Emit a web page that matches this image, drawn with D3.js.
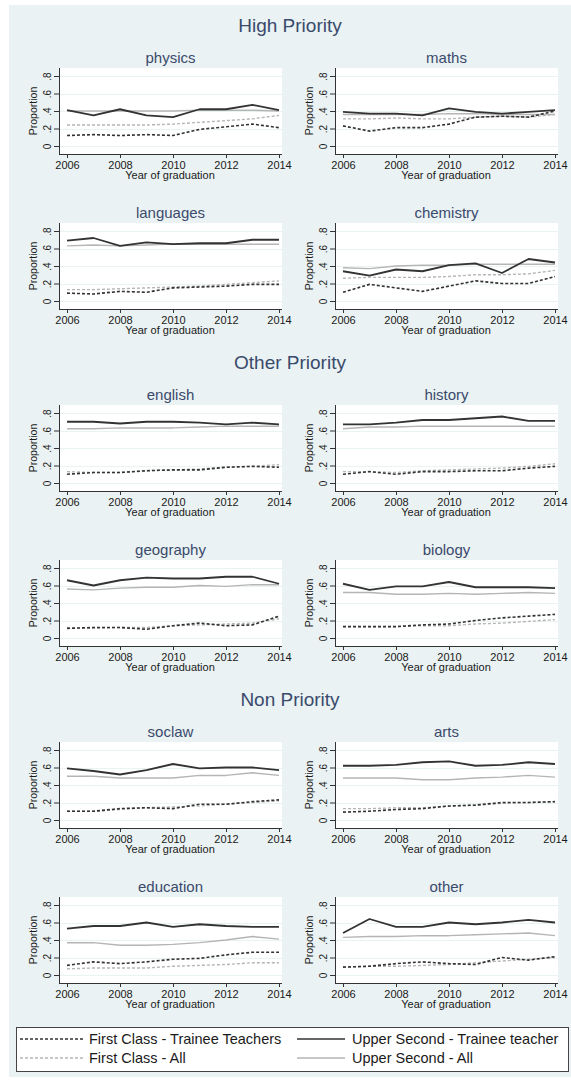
<!DOCTYPE html>
<html>
<head>
<meta charset="utf-8">
<script src="https://cdn.jsdelivr.net/npm/d3@7"></script>
<style>
  html, body { margin: 0; padding: 0; background: #ffffff; }
  svg { display: block; font-family: "Liberation Sans", Arial, sans-serif; }
</style>
</head>
<body>
<svg id="chart" width="571" height="1080"></svg>
<script>
// ---------------- DATA ----------------
const years = [2006, 2007, 2008, 2009, 2010, 2011, 2012, 2013, 2014];
const groups = ["High Priority", "Other Priority", "Non Priority"];
const subjects = ["physics", "maths", "languages", "chemistry",
                  "english", "history", "geography", "biology",
                  "soclaw", "arts", "education", "other"];
const xTicks = [2006, 2008, 2010, 2012, 2014];
const yTicks = [0, 0.2, 0.4, 0.6, 0.8];
const yTickLabels = ["0", ".2", ".4", ".6", ".8"];
const seriesNames = ["First Class - Trainee Teachers", "Upper Second - Trainee teacher",
                     "First Class - All", "Upper Second - All"];

// rows follow the order of `subjects`
const firstClassTrainee = [
  [0.12, 0.13, 0.12, 0.13, 0.12, 0.19, 0.22, 0.25, 0.21],
  [0.23, 0.17, 0.21, 0.21, 0.25, 0.33, 0.34, 0.33, 0.40],
  [0.09, 0.08, 0.11, 0.10, 0.15, 0.16, 0.17, 0.19, 0.19],
  [0.10, 0.19, 0.15, 0.11, 0.17, 0.23, 0.20, 0.20, 0.28],
  [0.10, 0.12, 0.12, 0.14, 0.15, 0.15, 0.18, 0.19, 0.18],
  [0.10, 0.13, 0.10, 0.13, 0.13, 0.14, 0.14, 0.17, 0.19],
  [0.11, 0.12, 0.12, 0.10, 0.14, 0.17, 0.14, 0.15, 0.25],
  [0.13, 0.13, 0.13, 0.15, 0.16, 0.20, 0.23, 0.25, 0.27],
  [0.10, 0.10, 0.13, 0.14, 0.13, 0.18, 0.18, 0.21, 0.23],
  [0.09, 0.10, 0.12, 0.13, 0.16, 0.17, 0.20, 0.20, 0.21],
  [0.11, 0.15, 0.13, 0.15, 0.18, 0.19, 0.23, 0.26, 0.26],
  [0.09, 0.10, 0.13, 0.15, 0.13, 0.12, 0.20, 0.17, 0.21]
];
const upperSecondTrainee = [
  [0.41, 0.35, 0.42, 0.35, 0.33, 0.42, 0.42, 0.47, 0.41],
  [0.39, 0.37, 0.37, 0.35, 0.43, 0.39, 0.37, 0.39, 0.41],
  [0.69, 0.72, 0.63, 0.67, 0.65, 0.66, 0.66, 0.70, 0.70],
  [0.34, 0.29, 0.36, 0.34, 0.41, 0.43, 0.32, 0.48, 0.44],
  [0.70, 0.70, 0.68, 0.70, 0.70, 0.69, 0.67, 0.69, 0.67],
  [0.67, 0.67, 0.69, 0.72, 0.72, 0.74, 0.76, 0.71, 0.71],
  [0.66, 0.60, 0.66, 0.69, 0.68, 0.68, 0.70, 0.70, 0.62],
  [0.62, 0.55, 0.59, 0.59, 0.64, 0.58, 0.58, 0.58, 0.57],
  [0.59, 0.56, 0.52, 0.57, 0.64, 0.59, 0.60, 0.60, 0.57],
  [0.62, 0.62, 0.63, 0.66, 0.67, 0.62, 0.63, 0.66, 0.64],
  [0.53, 0.56, 0.56, 0.60, 0.55, 0.58, 0.56, 0.55, 0.55],
  [0.48, 0.64, 0.55, 0.55, 0.60, 0.58, 0.60, 0.63, 0.60]
];
const firstClassAll = [
  [0.24, 0.24, 0.24, 0.24, 0.25, 0.27, 0.29, 0.31, 0.35],
  [0.31, 0.31, 0.32, 0.31, 0.31, 0.33, 0.34, 0.33, 0.36],
  [0.13, 0.13, 0.14, 0.15, 0.16, 0.17, 0.19, 0.21, 0.23],
  [0.26, 0.27, 0.27, 0.27, 0.28, 0.30, 0.30, 0.31, 0.35],
  [0.13, 0.12, 0.12, 0.14, 0.15, 0.16, 0.18, 0.19, 0.21],
  [0.13, 0.13, 0.12, 0.14, 0.15, 0.16, 0.17, 0.19, 0.22],
  [0.12, 0.11, 0.12, 0.12, 0.14, 0.15, 0.16, 0.17, 0.22],
  [0.13, 0.13, 0.13, 0.14, 0.14, 0.16, 0.17, 0.19, 0.21],
  [0.10, 0.10, 0.12, 0.14, 0.15, 0.16, 0.18, 0.20, 0.22],
  [0.13, 0.13, 0.14, 0.14, 0.16, 0.17, 0.19, 0.20, 0.21],
  [0.07, 0.08, 0.08, 0.08, 0.10, 0.11, 0.12, 0.14, 0.14],
  [0.09, 0.10, 0.10, 0.11, 0.12, 0.14, 0.16, 0.18, 0.20]
];
const upperSecondAll = [
  [0.40, 0.40, 0.40, 0.40, 0.40, 0.41, 0.41, 0.41, 0.40],
  [0.36, 0.36, 0.36, 0.36, 0.37, 0.37, 0.36, 0.36, 0.36],
  [0.63, 0.64, 0.63, 0.64, 0.65, 0.65, 0.65, 0.65, 0.65],
  [0.38, 0.37, 0.40, 0.41, 0.41, 0.42, 0.42, 0.42, 0.42],
  [0.62, 0.62, 0.63, 0.63, 0.63, 0.64, 0.65, 0.65, 0.65],
  [0.62, 0.64, 0.64, 0.65, 0.65, 0.65, 0.65, 0.65, 0.65],
  [0.56, 0.55, 0.57, 0.58, 0.58, 0.60, 0.59, 0.61, 0.61],
  [0.52, 0.52, 0.50, 0.50, 0.51, 0.50, 0.51, 0.52, 0.51],
  [0.50, 0.50, 0.48, 0.48, 0.48, 0.51, 0.51, 0.54, 0.51],
  [0.48, 0.48, 0.48, 0.46, 0.46, 0.48, 0.49, 0.51, 0.49],
  [0.37, 0.37, 0.34, 0.34, 0.35, 0.37, 0.40, 0.44, 0.41],
  [0.43, 0.44, 0.44, 0.45, 0.45, 0.46, 0.47, 0.48, 0.45]
];

// ---------------- STYLE / LAYOUT ----------------
const BG = "#eaf2f3";
const TITLE_COLOR = "#3a4a6c";
const DARK = "#333333";
const LIGHT = "#b5b5b5";
const seriesStyles = [
  { data: upperSecondAll,     color: LIGHT, dash: null,  width: 1.5 },
  { data: firstClassAll,      color: LIGHT, dash: "3,2", width: 1.4 },
  { data: upperSecondTrainee, color: DARK,  dash: null,  width: 1.8 },
  { data: firstClassTrainee,  color: DARK,  dash: "3,2", width: 1.6 }
];

const colLeft = [59, 335];
const rowTop = [68, 223, 405, 560, 742, 897];
const groupBaseline = [32, 369, 706];
const PW = 223, PH = 86;

const svg = d3.select("#chart");
svg.append("rect").attr("x", 9).attr("y", 5).attr("width", 562).attr("height", 1072).attr("fill", BG);

groups.forEach((g, gi) => {
  svg.append("text").attr("x", 290).attr("y", groupBaseline[gi])
    .attr("text-anchor", "middle").attr("font-size", 19).attr("fill", TITLE_COLOR).text(g);
});

subjects.forEach((name, i) => {
  const L = colLeft[i % 2];
  const T = rowTop[Math.floor(i / 2)];
  const x = d3.scaleLinear().domain([2006, 2014]).range([L + 8, L + 220]);
  const y = d3.scaleLinear().domain([0, 0.8]).range([T + 78, T + 8]);
  const gP = svg.append("g");

  gP.append("rect").attr("x", L).attr("y", T).attr("width", PW).attr("height", PH).attr("fill", "#ffffff");

  // grid
  gP.selectAll("line.grid").data(yTicks).enter().append("line")
    .attr("x1", L).attr("x2", L + PW)
    .attr("y1", d => Math.round(y(d)) + 0.5).attr("y2", d => Math.round(y(d)) + 0.5)
    .attr("stroke", BG).attr("stroke-width", 1);

  // series
  const lineGen = d3.line().x((d, j) => x(years[j])).y(d => y(d)).curve(d3.curveLinear);
  seriesStyles.forEach(s => {
    gP.append("path").datum(s.data[i]).attr("d", lineGen)
      .attr("fill", "none").attr("stroke", s.color).attr("stroke-width", s.width)
      .attr("stroke-dasharray", s.dash).attr("stroke-linejoin", "round");
  });

  // axes
  const ya = gP.append("g").attr("transform", `translate(${L},0)`)
    .call(d3.axisLeft(y).tickValues(yTicks).tickFormat((d, j) => yTickLabels[j]).tickSize(5).tickSizeOuter(0));
  ya.select(".domain").remove();
  ya.selectAll(".tick line").attr("stroke", DARK);
  ya.selectAll(".tick text")
    .attr("x", null).attr("dy", null)
    .attr("transform", "translate(-8,0) rotate(-90)")
    .attr("text-anchor", "middle").attr("font-size", 10).attr("fill", "#1a1a1a")
    .attr("font-family", "Liberation Sans, Arial, sans-serif");
  gP.append("line").attr("x1", L + 0.5).attr("x2", L + 0.5).attr("y1", T).attr("y2", T + PH)
    .attr("stroke", DARK).attr("stroke-width", 1);

  const xa = gP.append("g").attr("transform", `translate(0,${T + PH})`)
    .call(d3.axisBottom(x).tickValues(xTicks).tickFormat(d3.format("d")).tickSize(4).tickSizeOuter(0));
  xa.select(".domain").remove();
  xa.selectAll(".tick line").attr("stroke", DARK);
  xa.selectAll(".tick text").attr("font-size", 11).attr("fill", "#1a1a1a")
    .attr("font-family", "Liberation Sans, Arial, sans-serif");
  gP.append("line").attr("x1", L).attr("x2", L + PW).attr("y1", T + PH + 0.5).attr("y2", T + PH + 0.5)
    .attr("stroke", DARK).attr("stroke-width", 1);

  // labels
  gP.append("text").attr("x", L + PW / 2).attr("y", T - 5).attr("text-anchor", "middle")
    .attr("font-size", 15).attr("fill", TITLE_COLOR).text(name);
  gP.append("text").attr("x", L + 111).attr("y", T + PH + 25).attr("text-anchor", "middle")
    .attr("font-size", 11).attr("fill", "#1a1a1a").text("Year of graduation");
  gP.append("text").attr("transform", `translate(${L - 22},${T + 43}) rotate(-90)`)
    .attr("text-anchor", "middle").attr("font-size", 10.5).attr("fill", "#1a1a1a").text("Proportion");
});

// ---------------- LEGEND ----------------
const lg = { x: 16, y: 1027, w: 552, h: 44 };
svg.append("rect").attr("x", lg.x + 0.5).attr("y", lg.y + 0.5).attr("width", lg.w).attr("height", lg.h)
  .attr("fill", "#ffffff").attr("stroke", "#444").attr("stroke-width", 1);
const legItems = [
  { name: seriesNames[0], color: DARK,  dash: "3,2", width: 1.4, lx: 20,  lw: 63, tx: 89,  ty: 1039 },
  { name: seriesNames[1], color: DARK,  dash: null,  width: 1.6, lx: 297, lw: 48, tx: 352, ty: 1039 },
  { name: seriesNames[2], color: LIGHT, dash: "3,2", width: 1.3, lx: 20,  lw: 63, tx: 89,  ty: 1058 },
  { name: seriesNames[3], color: LIGHT, dash: null,  width: 1.5, lx: 297, lw: 48, tx: 352, ty: 1058 }
];
const lgG = svg.append("g");
legItems.forEach(it => {
  lgG.append("line").attr("x1", it.lx).attr("x2", it.lx + it.lw).attr("y1", it.ty).attr("y2", it.ty)
    .attr("stroke", it.color).attr("stroke-width", it.width).attr("stroke-dasharray", it.dash);
  lgG.append("text").attr("x", it.tx).attr("y", it.ty).attr("dy", "0.35em")
    .attr("font-size", 14.5).attr("fill", "#1a1a1a").text(it.name);
});
</script>
</body>
</html>
